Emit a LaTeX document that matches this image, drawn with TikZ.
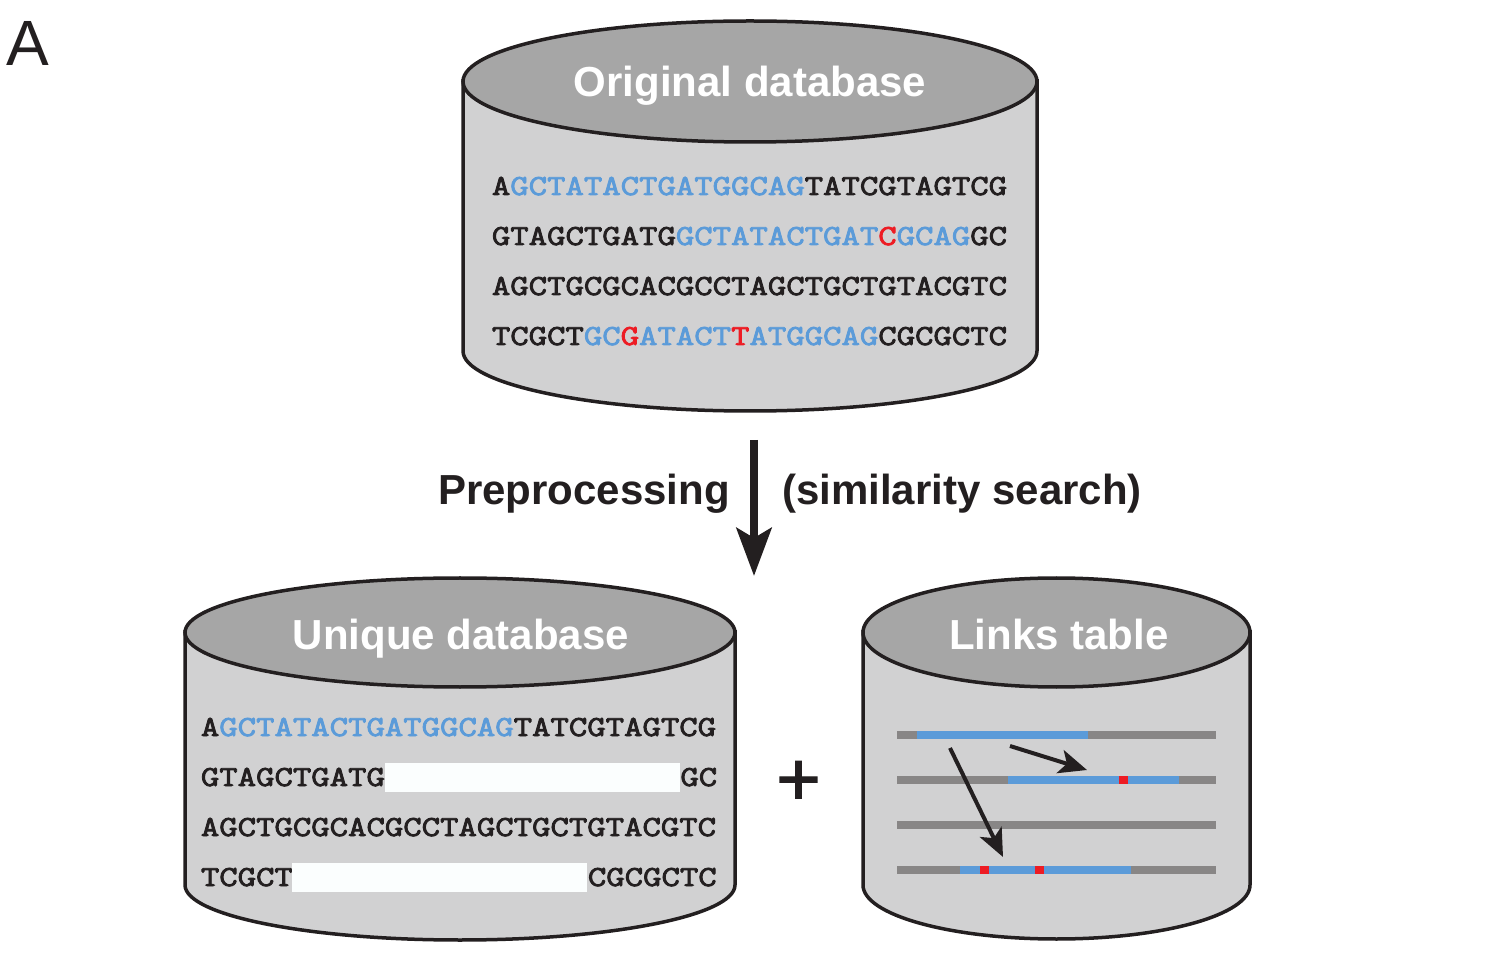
\documentclass[tikz,border=0pt]{standalone}
\usepackage{fontspec}
\setmainfont{Liberation Sans}
\newfontfamily\seqfont[FakeBold=3, FakeStretch=1.232]{Latin Modern Mono}
\newfontfamily\plusfont[FakeBold=1.5]{Liberation Sans}
\usetikzlibrary{arrows.meta}
\usetikzlibrary{shapes.geometric}
\definecolor{ink}{HTML}{231F20}
\definecolor{bodygray}{HTML}{D1D1D2}
\definecolor{lidgray}{HTML}{A6A6A6}
\definecolor{bargray}{HTML}{888686}
\definecolor{seqblue}{HTML}{5B9BD9}
\definecolor{seqred}{HTML}{ED1C24}
\definecolor{patch}{HTML}{FBFEFE}
\newcommand{\bl}[1]{\textcolor{seqblue}{#1}}
\newcommand{\rd}[1]{\textcolor{seqred}{#1}}
\tikzstyle{lid}=[ellipse, draw=ink, line width=1.75pt, fill=lidgray, inner sep=0pt]
\tikzstyle{title}=[anchor=base, inner sep=0pt, text=white, font=\fontsize{21pt}{21pt}\selectfont\bfseries]
\tikzstyle{drum}=[draw=ink, line width=1.75pt, fill=bodygray]
\tikzstyle{seq}=[anchor=base west, inner sep=0pt, text=ink, font=\fontsize{14.5pt}{14.5pt}\seqfont]
\tikzstyle{blank}=[fill=patch, draw=none]
\tikzstyle{bar}=[line width=4pt, draw=bargray]
\tikzstyle{big}=[font=\fontsize{21pt}{21pt}\selectfont\bfseries, text=ink, anchor=base, inner sep=0pt]
\tikzstyle{thin arrow}=[draw=ink, line width=2pt, -{Stealth[length=14pt, width=12pt, inset=3.5pt]}]

\begin{document}
\begin{tikzpicture}[x=.5pt, y=-.5pt]
    \useasboundingbox (0,0) rectangle (1495,962);

    % cylinders
    \draw[drum] (463,81) -- (463,351) arc (180:0:287 and 60) -- (1037,81) -- cycle;
    \node[lid, minimum width=287pt, minimum height=60.5pt] (orig) at (750,81.5) {};
    \node[title] (origt) at (750,97) {Original database};

    \draw[drum] (185,632) -- (185,885) arc (180:0:275 and 55) -- (735,632) -- cycle;
    \node[lid, minimum width=275pt, minimum height=54.5pt] (uniq) at (460,632.5) {};
    \node[title] (uniqt) at (461,649) {Unique database};

    \draw[drum] (863,632) -- (863,885) arc (180:0:193.5 and 54) -- (1250,632) -- cycle;
    \node[lid, minimum width=193.5pt, minimum height=54.5pt] (links) at (1056.5,632.5) {};
    \node[title] (linkst) at (1059,649) {Links table};

    % sequences
    \node[seq] (o1) at (491.5,195) {A\bl{GCTATACTGATGGCAG}TATCGTAGTCG};
    \node[seq] (o2) at (491.5,245) {GTAGCTGATG\bl{GCTATACTGAT}\rd{C}\bl{GCAG}GC};
    \node[seq] (o3) at (491.5,295) {AGCTGCGCACGCCTAGCTGCTGTACGTC};
    \node[seq] (o4) at (491.5,345) {TCGCT\bl{GC}\rd{G}\bl{ATACT}\rd{T}\bl{ATGGCAG}CGCGCTC};

    \node[seq] (u1) at (200.5,736) {A\bl{GCTATACTGATGGCAG}TATCGTAGTCG};
    \node[seq] (u2) at (200.5,786) {GTAGCTGATG};
    \node[seq] (u2r) at (680,786) {GC};
    \node[seq] (u3) at (200.5,836) {AGCTGCGCACGCCTAGCTGCTGTACGTC};
    \node[seq] (u4) at (200.5,886) {TCGCT};
    \node[seq] (u4r) at (587.5,886) {CGCGCTC};
    \fill[blank] (385,763) rectangle (680,792);
    \fill[blank] (292,863) rectangle (587,892);

    % links table
    \foreach \y in {735,780,825,870}
      \draw[bar] (897,\y) -- (1216,\y);
    \foreach \from/\to/\y in {917/1088/735, 1008/1179/780, 960/1131/870}
      \draw[bar, draw=seqblue] (\from,\y) -- (\to,\y);
    \foreach \from/\to/\y in {1119/1128/780, 980/989/870, 1035/1044/870}
      \draw[bar, draw=seqred] (\from,\y) -- (\to,\y);

    \coordinate (a1) at (1010,746);
    \coordinate (a2) at (1087,770);
    \coordinate (b1) at (950,748);
    \coordinate (b2) at (1003,857);
    \draw[thin arrow] (a1) -- (a2);
    \draw[thin arrow] (b1) -- (b2);

    % labels
    \node[anchor=base, inner sep=0pt, text=ink, font=\fontsize{32pt}{32pt}\selectfont] (panel) at (27.5,66) {A};
    \node[big] (pre) at (584,505) {Preprocessing};
    \node[big] (sim) at (962,505) {(similarity search)};
    \node[anchor=center, inner sep=0pt, text=ink, font=\fontsize{38pt}{38pt}\plusfont] (plus) at (798.5,783) {+};

    \coordinate (p1) at (754,440);
    \coordinate (p2) at (754,576);
    \draw[draw=ink, line width=4pt, -{Stealth[length=24pt, width=17.5pt, inset=5pt]}] (p1) -- (p2);
\end{tikzpicture}
\end{document}
